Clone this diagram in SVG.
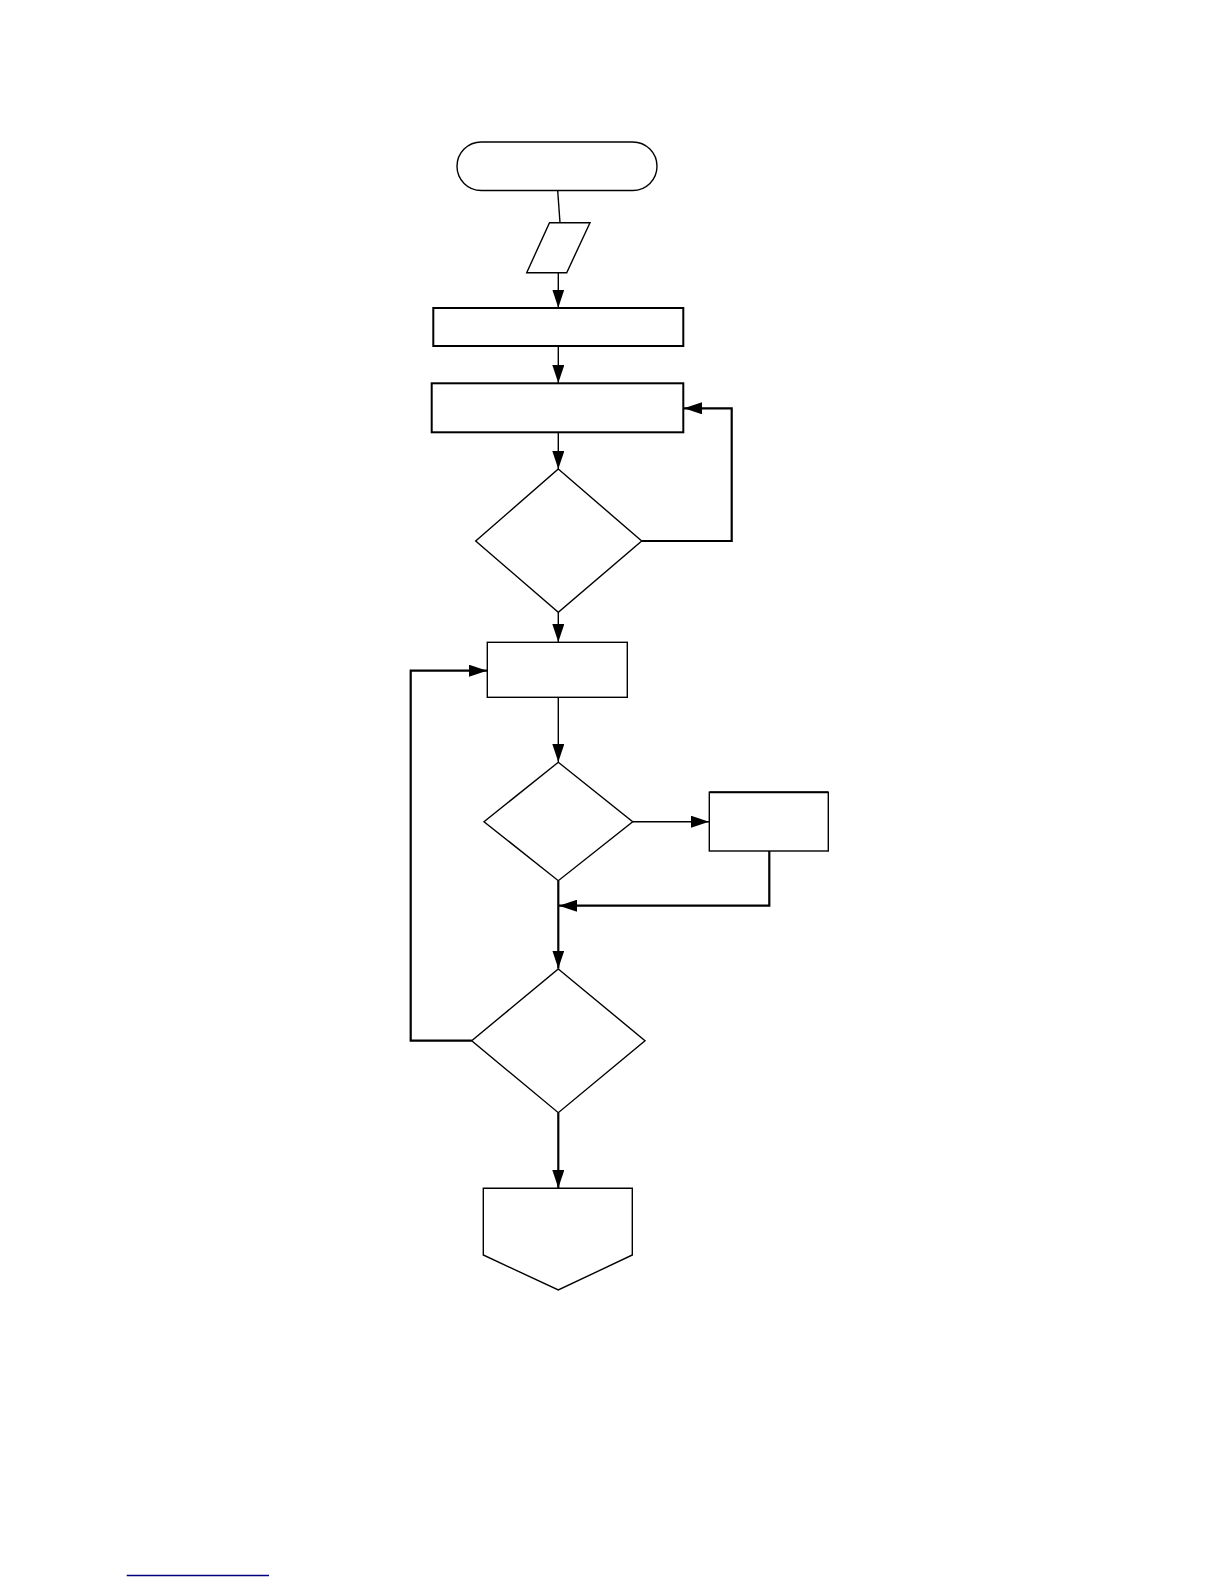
<svg xmlns="http://www.w3.org/2000/svg" width="1224" height="1584" viewBox="0 0 1224 1584">
<style>
.n{fill:#fff;stroke:#000;stroke-width:1.4}
.nb{fill:#fff;stroke:#000;stroke-width:2}
.c{fill:none;stroke:#000;stroke-width:1.4}
.cb{fill:none;stroke:#000;stroke-width:2.2}
</style>
<defs>
<marker id="ah" markerUnits="userSpaceOnUse" markerWidth="18" markerHeight="12" refX="18" refY="6" orient="auto">
<path d="M0,0 L18,6 L0,12 Z" fill="#000"/>
</marker>
</defs>
<rect width="1224" height="1584" fill="#fff"/>
<g id="start"><rect class="n" x="457" y="142" width="200" height="48.5" rx="24.25"/></g>
<g id="input"><polygon class="n" points="549.5,222.7 590,222.7 566.7,272.7 526.7,272.7"/></g>
<g id="proc1"><rect class="nb" x="433.3" y="308" width="250" height="38"/></g>
<g id="proc2"><rect class="nb" x="431.7" y="383.3" width="251.6" height="49"/></g>
<g id="dec1"><polygon class="n" points="558.3,469 641.7,541 558.3,612.3 475.7,541"/></g>
<g id="proc3"><rect class="n" x="487.3" y="642.3" width="140" height="55"/></g>
<g id="dec2"><polygon class="n" points="558.3,762.3 632.7,821.7 558.3,880.7 484,821.7"/></g>
<g id="proc4"><rect class="n" x="709.3" y="792.3" width="119" height="58.7"/><line x1="709.3" y1="792.3" x2="828.3" y2="792.3" stroke="#000" stroke-width="2"/></g>
<g id="dec3"><polygon class="n" points="558.3,969 645,1040.7 558.3,1112.7 471.7,1040.7"/></g>
<g id="end"><polygon class="n" points="483.3,1188.3 632.3,1188.3 632.3,1255 558.3,1290 483.3,1255"/></g>
<g id="connectors">
<line class="c" x1="557.7" y1="190.7" x2="560" y2="222.7"/>
<line class="c" x1="558.3" y1="272.7" x2="558.3" y2="307.7" marker-end="url(#ah)"/>
<line class="c" x1="558.3" y1="346" x2="558.3" y2="383" marker-end="url(#ah)"/>
<line class="c" x1="558.3" y1="432.3" x2="558.3" y2="469" marker-end="url(#ah)"/>
<polyline class="cb" points="641.7,541 731.7,541 731.7,408.3 684,408.3" marker-end="url(#ah)"/>
<line class="c" x1="558.3" y1="612.3" x2="558.3" y2="642" marker-end="url(#ah)"/>
<line class="c" x1="558.3" y1="697.3" x2="558.3" y2="762" marker-end="url(#ah)"/>
<line class="c" x1="632.7" y1="821.7" x2="709" y2="821.7" marker-end="url(#ah)"/>
<polyline class="cb" points="769.3,851 769.3,905.7 559,905.7" marker-end="url(#ah)"/>
<line class="cb" x1="558.3" y1="880.7" x2="558.3" y2="968.5" marker-end="url(#ah)"/>
<polyline class="cb" points="471.7,1040.7 410.7,1040.7 410.7,670.7 487,670.7" marker-end="url(#ah)"/>
<line class="cb" x1="558.3" y1="1112.7" x2="558.3" y2="1188" marker-end="url(#ah)"/>
</g>
<line x1="126.7" y1="1575.5" x2="269" y2="1575.5" stroke="#000080" stroke-width="1.3"/>
</svg>
